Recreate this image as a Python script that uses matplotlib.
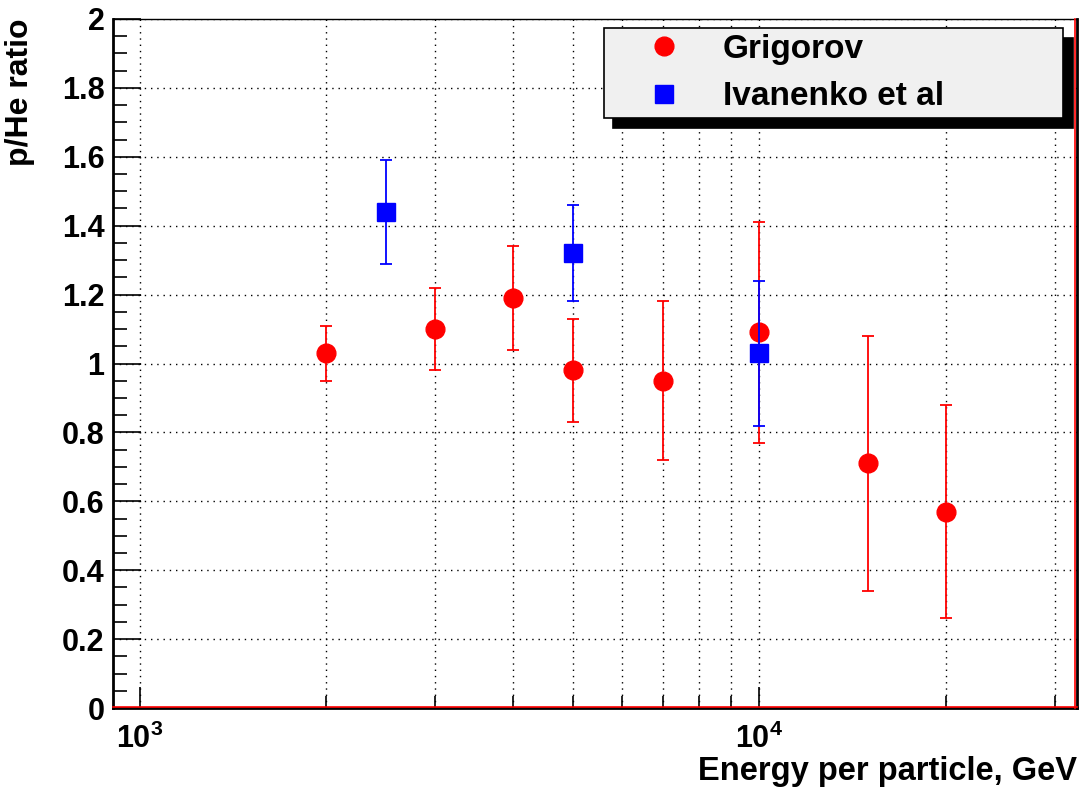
import math
import matplotlib
matplotlib.use("Agg")
import matplotlib.pyplot as plt
import matplotlib.transforms as mtransforms
from matplotlib.lines import Line2D
from matplotlib.ticker import FixedLocator, FuncFormatter, NullFormatter

plt.rcParams['font.family'] = ['Liberation Sans', 'DejaVu Sans']
plt.rcParams['font.weight'] = 'bold'
plt.rcParams['mathtext.fontset'] = 'custom'
plt.rcParams['mathtext.rm'] = 'Liberation Sans:bold'
plt.rcParams['mathtext.bf'] = 'Liberation Sans:bold'

# Grigorov
grig_e = [2000, 3000, 4000, 5000, 7000, 10000, 15000, 20000]
grig_r = [1.03, 1.10, 1.19, 0.98, 0.95, 1.09, 0.71, 0.57]
grig_err = [0.08, 0.12, 0.15, 0.15, 0.23, 0.32, 0.37, 0.31]

# Ivanenko et al
ivan_e = [2500, 5000, 10000]
ivan_r = [1.44, 1.32, 1.03]
ivan_err = [0.15, 0.14, 0.21]

x_major = [1e3, 1e4]
x_minor = [2e3, 3e3, 4e3, 5e3, 6e3, 7e3, 8e3, 9e3, 2e4, 3e4]

RED = '#ff0000'
BLUE = '#0000ff'

fig = plt.figure(figsize=(10.85, 7.91), dpi=100)
ax = fig.add_axes([0.1041, 0.1049, 0.8885, 0.8711])

ax.errorbar(grig_e, grig_r, yerr=grig_err, fmt='o', color=RED, ms=13.5,
            elinewidth=1.3, capsize=4.5, capthick=1.3, zorder=4)
ax.errorbar(ivan_e, ivan_r, yerr=ivan_err, fmt='s', color=BLUE, ms=13,
            elinewidth=1.3, capsize=4.5, capthick=1.3, zorder=5)

ax.set_xscale('log')
ax.set_xlim(905, 32600)
ax.set_ylim(0, 2)

ax.xaxis.set_major_locator(FixedLocator(x_major))
ax.xaxis.set_minor_locator(FixedLocator(x_minor))
ax.xaxis.set_major_formatter(FuncFormatter(lambda v, p: r'$\mathrm{10^{%d}}$' % round(math.log10(v))))
ax.xaxis.set_minor_formatter(NullFormatter())
ax.yaxis.set_major_locator(FixedLocator([i * 0.2 for i in range(11)]))
ax.yaxis.set_minor_locator(FixedLocator([i * 0.05 for i in range(41)]))
ax.yaxis.set_major_formatter(FuncFormatter(lambda v, p: '%g' % round(v, 2)))

ax.tick_params(axis='x', which='major', direction='in', length=15, width=1.2,
               labelsize=22, pad=11, top=False)
ax.tick_params(axis='x', which='minor', direction='in', length=8.5, width=1.2, top=False)
ax.tick_params(axis='y', which='major', direction='in', length=20, width=1.2,
               labelsize=22, pad=6, right=False)
ax.tick_params(axis='y', which='minor', direction='in', length=10, width=1.2, right=False)

grid_kw = dict(color='black', linestyle=(0, (1, 3.5)), linewidth=1.0)
ax.grid(True, which='both', axis='x', **grid_kw)
ax.grid(True, which='major', axis='y', **grid_kw)
ax.set_axisbelow(True)

for s in ['left', 'bottom', 'right']:
    ax.spines[s].set_linewidth(2)
ax.spines['top'].set_linewidth(1)

# red histogram frame just inside the bottom and right axes
up = mtransforms.ScaledTranslation(0, 1.5 / 100, fig.dpi_scale_trans)
ax.plot([0, 1], [0, 0], color=RED, lw=1.2, zorder=6, clip_on=False,
        transform=ax.transAxes + up)
left = mtransforms.ScaledTranslation(-2 / 100, 0, fig.dpi_scale_trans)
ax.plot([1, 1], [0, 1], color=RED, lw=1.2, zorder=6, clip_on=False,
        transform=ax.transAxes + left)

ax.set_ylabel('p/He ratio', fontsize=23, fontweight='bold')
ax.yaxis.set_label_coords(-0.081, 1.0)
ax.yaxis.label.set_ha('right')
ax.set_xlabel('Energy per particle, GeV', fontsize=23.5, fontweight='bold')
ax.xaxis.set_label_coords(1.0, -0.07)
ax.xaxis.label.set_ha('right')

handles = [
    Line2D([], [], marker='o', linestyle='none', color=RED, ms=13.5),
    Line2D([], [], marker='s', linestyle='none', color=BLUE, ms=13),
]
leg = ax.legend(handles, ['Grigorov', 'Ivanenko et al'],
                loc='upper left', bbox_to_anchor=(0.509, 0.987, 0.4765, 0.0),
                mode='expand', fontsize=24, frameon=True, fancybox=False,
                facecolor='#f0f0f0', edgecolor='black', framealpha=1,
                borderpad=0.17, labelspacing=0.5, handletextpad=0.1,
                handlelength=3.3, borderaxespad=0, numpoints=1,
                shadow={'ox': 7, 'oy': -7, 'facecolor': 'black',
                        'edgecolor': 'black', 'alpha': 1})
leg.get_frame().set_linewidth(1.2)

fig.savefig('out.png', dpi=100)
